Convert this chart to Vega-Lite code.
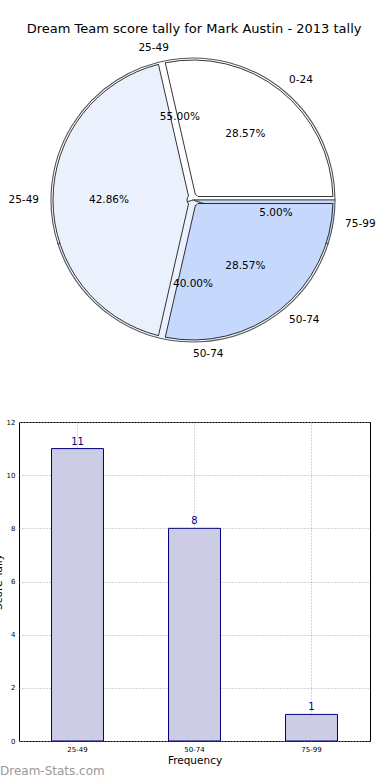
{
  "$schema": "https://vega.github.io/schema/vega-lite/v6.json",
  "padding": {"left": -8, "top": 22, "right": 0, "bottom": 0},
  "bounds": "flush",
  "spacing": 67,
  "title": {"text": "Dream Team score tally for Mark Austin - 2013 tally", "fontSize": 13, "font": "DejaVu Sans", "fontWeight": "normal", "color": "black", "anchor": "middle", "dx": 10, "offset": 7},
  "config": {"font": "DejaVu Sans", "view": {"stroke": null}},
  "datasets": {
    "previous": [
      {"range": "0-24", "count": 2, "pct": 0.2857},
      {"range": "25-49", "count": 3, "pct": 0.4286},
      {"range": "50-74", "count": 2, "pct": 0.2857}
    ],
    "tally2013": [
      {"range": "25-49", "count": 11, "pct": 0.55},
      {"range": "50-74", "count": 8, "pct": 0.40},
      {"range": "75-99", "count": 1, "pct": 0.05}
    ]
  },
  "vconcat": [
    {
      "width": 348,
      "height": 310,
      "layer": [
        {
          "data": {"name": "tally2013"},
          "mark": {"type": "arc", "radius": 142, "stroke": "#555555", "strokeWidth": 1.1},
          "encoding": {
            "theta": {"field": "count", "type": "quantitative", "stack": true, "scale": {"range": [1.5708, -4.7124]}},
            "order": {"field": "range", "type": "ordinal"},
            "color": {"field": "range", "type": "nominal", "scale": {"domain": ["25-49", "50-74", "75-99"], "range": ["#ffffff", "#eaf1fd", "#c6d9fd"]}, "legend": null}
          }
        },
        {
          "data": {"name": "previous"},
          "mark": {"type": "arc", "radius": 140, "radius2": 6, "padAngle": 0.05, "stroke": "black", "strokeWidth": 0.8},
          "encoding": {
            "theta": {"field": "count", "type": "quantitative", "stack": true, "scale": {"range": [1.5708, -4.7124]}},
            "order": {"field": "range", "type": "ordinal"},
            "color": {"field": "range", "type": "nominal", "scale": {"domain": ["0-24", "25-49", "50-74"], "range": ["#ffffff", "#eaf1fd", "#c6d9fd"]}, "legend": null}
          }
        },
        {
          "data": {"name": "tally2013"},
          "mark": {"type": "text", "radius": 84, "fontSize": 10.5, "color": "black"},
          "encoding": {
            "theta": {"field": "count", "type": "quantitative", "stack": true, "scale": {"range": [1.5708, -4.7124]}},
            "order": {"field": "range", "type": "ordinal"},
            "text": {"field": "pct", "type": "quantitative", "format": ".2%"}
          }
        },
        {
          "data": {"name": "tally2013"},
          "mark": {"type": "text", "radius": 154, "fontSize": 10.5, "color": "black", "baseline": "middle", "align": {"expr": "datum.range == '25-49' ? 'right' : 'left'"}},
          "encoding": {
            "theta": {"field": "count", "type": "quantitative", "stack": true, "scale": {"range": [1.5708, -4.7124]}},
            "order": {"field": "range", "type": "ordinal"},
            "text": {"field": "range", "type": "nominal"}
          }
        },
        {
          "data": {"name": "previous"},
          "mark": {"type": "text", "radius": 84, "fontSize": 10.5, "color": "black"},
          "encoding": {
            "theta": {"field": "count", "type": "quantitative", "stack": true, "scale": {"range": [1.5708, -4.7124]}},
            "order": {"field": "range", "type": "ordinal"},
            "text": {"field": "pct", "type": "quantitative", "format": ".2%"}
          }
        },
        {
          "data": {"name": "previous"},
          "mark": {"type": "text", "radius": 154, "fontSize": 10.5, "color": "black", "baseline": "middle", "align": {"expr": "datum.range == '25-49' ? 'right' : 'left'"}},
          "encoding": {
            "theta": {"field": "count", "type": "quantitative", "stack": true, "scale": {"range": [1.5708, -4.7124]}},
            "order": {"field": "range", "type": "ordinal"},
            "text": {"field": "range", "type": "nominal"}
          }
        }
      ],
      "resolve": {"scale": {"theta": "independent", "color": "independent"}}
    },
    {
      "width": 351,
      "height": 319,
      "data": {"name": "tally2013"},
      "view": {"stroke": "black", "strokeWidth": 1},
      "title": {"text": "Dream-Stats.com", "orient": "bottom", "anchor": "start", "frame": "group", "fontSize": 12, "fontWeight": "normal", "color": "#999999", "dx": -19, "offset": 0},
      "encoding": {
        "x": {
          "field": "range", "type": "nominal",
          "scale": {"paddingInner": 0, "paddingOuter": 0},
          "axis": {"title": "Frequency", "labelAngle": 0, "labelFontSize": 7, "labelColor": "black", "grid": true, "gridDash": [1, 2], "gridColor": "#aaaaaa", "bandPosition": 0.5, "ticks": false, "domain": false, "labelPadding": 4, "titleFontSize": 10.5, "titleFontWeight": "normal", "titleColor": "black", "titlePadding": 3}
        },
        "y": {
          "field": "count", "type": "quantitative",
          "scale": {"domain": [0, 12], "nice": false},
          "axis": {"title": "Score Tally", "values": [0, 2, 4, 6, 8, 10, 12], "labelFontSize": 7, "labelColor": "black", "grid": true, "gridDash": [1, 2], "gridColor": "#aaaaaa", "ticks": false, "domain": false, "labelPadding": 4, "titleFontSize": 10.5, "titleFontWeight": "normal", "titleColor": "black", "titlePadding": 3}
        }
      },
      "layer": [
        {"mark": {"type": "bar", "width": {"band": 0.444}, "fill": "#cccce5", "stroke": "#000080", "strokeWidth": 1}},
        {"mark": {"type": "text", "baseline": "bottom", "dy": -2, "fontSize": 10, "color": "#000080"}, "encoding": {"text": {"field": "count", "type": "quantitative"}}}
      ]
    }
  ]
}
